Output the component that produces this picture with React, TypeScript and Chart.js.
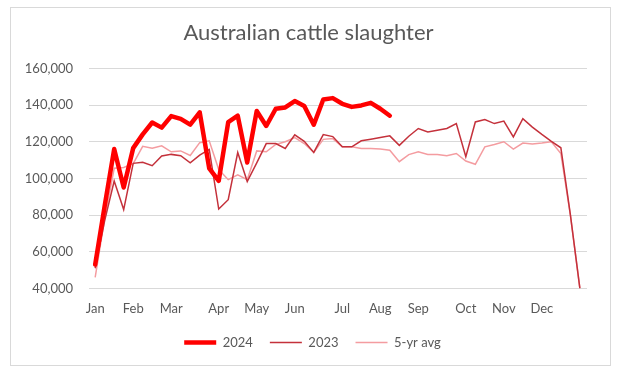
import React, { useEffect, useRef } from 'react';
import { Chart, registerables } from 'chart.js';

Chart.register(...registerables);

const monthLabels = ['Jan', 'Feb', 'Mar', 'Apr', 'May', 'Jun', 'Jul', 'Aug', 'Sep', 'Oct', 'Nov', 'Dec'];
const monthWeeks = [0, 4, 8, 13, 17, 21, 26, 30, 34, 39, 43, 47];

const series2024 = [
  53000, 85000, 116000, 95000, 116500, 124000, 130500, 127700, 134000, 132500,
  129300, 136000, 105500, 98700, 130700, 134200, 108700, 136800, 128600, 138000,
  138700, 142200, 139500, 129300, 143000, 143800, 140700, 139000, 139800, 141200,
  138000, 134200,
];

const series2023 = [
  51000, 77000, 98600, 83000, 108200, 108800, 106900, 112200, 113100, 112400,
  108500, 112700, 115800, 83300, 88400, 114100, 98300, 108500, 119000, 119000,
  116300, 123800, 120200, 114200, 123900, 122800, 117200, 117200, 120500, 121400,
  122300, 123200, 118000, 123000, 127200, 125300, 126300, 127200, 129900, 111800,
  130800, 132100, 129900, 131300, 122600, 132600, 128000, 124000, 120200, 116700,
  80200, 40000,
];

const series5yr = [
  46000, 78000, 105500, 106000, 108000, 117500, 116500, 117800, 114500, 115000,
  112500, 119500, 120500, 104800, 99300, 102000, 99300, 115000, 114500, 118500,
  120000, 122300, 119000, 114200, 121300, 121700, 117200, 117200, 116300, 116300,
  116000, 115400, 109100, 113000, 114500, 113100, 113100, 112400, 113600, 109500,
  107700, 117200, 118500, 120000, 116000, 119300, 118800, 119300, 120000, 113500,
  80000, 40000,
];

const seriesNames = ['2024', '2023', '5-yr avg'];
const yMin = 40000;
const yMax = 160000;
const yStep = 20000;

const FONT = 'Lato, "Open Sans", sans-serif';
const TEXT = '#595959';

const boxShift = {
  id: 'boxShift',
  afterLayout(chart: any) {
    const lg = chart.legend;
    if (lg) {
      lg.top -= 11;
      lg.bottom -= 11;
      lg.left += 14;
      lg.right += 14;
    }
    const tb = chart.titleBlock;
    if (tb) {
      tb.left += 10;
      tb.right += 10;
    }
  },
};

export default function App() {
  const canvasRef = useRef<HTMLCanvasElement | null>(null);

  useEffect(() => {
    const canvas = canvasRef.current;
    if (!canvas) return;
    const toPts = (arr: number[]) => arr.map((y, i) => ({ x: i, y }));
    const chart = new Chart(canvas, {
      type: 'line',
      data: {
        datasets: [
          {
            label: seriesNames[0],
            data: toPts(series2024),
            borderColor: '#FF0000',
            backgroundColor: '#FF0000',
            borderWidth: 4.5,
            pointRadius: 0,
            tension: 0,
            borderJoinStyle: 'round',
            borderCapStyle: 'round',
          },
          {
            label: seriesNames[1],
            data: toPts(series2023),
            borderColor: '#C4313B',
            backgroundColor: '#C4313B',
            borderWidth: 1.5,
            pointRadius: 0,
            tension: 0,
          },
          {
            label: seriesNames[2],
            data: toPts(series5yr),
            borderColor: '#F49CA0',
            backgroundColor: '#F49CA0',
            borderWidth: 1.5,
            pointRadius: 0,
            tension: 0,
          },
        ],
      },
      plugins: [boxShift],
      options: {
        responsive: false,
        animation: false,
        devicePixelRatio: 1,
        layout: { padding: { top: 10, left: 10, right: 36, bottom: 3 } },
        plugins: {
          tooltip: { enabled: false },
          title: {
            display: true,
            text: 'Australian cattle slaughter',
            color: TEXT,
            font: { family: FONT, size: 22, weight: 'normal' },
            padding: { top: 10, bottom: 22 },
          },
          legend: {
            position: 'bottom',
            labels: {
              usePointStyle: true,
              pointStyleWidth: 32,
              boxWidth: 32,
              boxHeight: 13,
              padding: 17,
              color: TEXT,
              font: { family: FONT, size: 13 },
              generateLabels: (c: any) =>
                c.data.datasets.map((ds: any, i: number) => ({
                  text: ds.label,
                  strokeStyle: ds.borderColor,
                  fillStyle: ds.borderColor,
                  lineWidth: ds.borderWidth,
                  pointStyle: 'line',
                  lineCap: 'butt',
                  hidden: false,
                  datasetIndex: i,
                  fontColor: TEXT,
                })),
            },
          },
        },
        scales: {
          x: {
            type: 'linear',
            min: -0.65,
            max: 51.75,
            grid: { display: false, drawTicks: false },
            border: { display: false },
            afterBuildTicks: (scale: any) => {
              scale.ticks = monthWeeks.map((v) => ({ value: v }));
            },
            ticks: {
              autoSkip: false,
              maxRotation: 0,
              padding: 13,
              color: TEXT,
              font: { family: FONT, size: 13 },
              callback: (v: any) => {
                const idx = monthWeeks.indexOf(Number(v));
                return idx >= 0 ? monthLabels[idx] : '';
              },
            },
          },
          y: {
            min: yMin,
            max: yMax,
            grid: { color: '#D9D9D9', drawTicks: false, lineWidth: 1 },
            border: { display: false },
            afterFit: (scale: any) => {
              scale.width = 79;
            },
            ticks: {
              stepSize: yStep,
              padding: 16,
              color: TEXT,
              font: { family: FONT, size: 13 },
              callback: (v: any) => Number(v).toLocaleString('en-US'),
            },
          },
        },
      },
    } as any);
    return () => chart.destroy();
  }, []);

  return (
    <div style={{ position: 'fixed', left: 0, top: 0, width: 623, height: 373, background: '#fff' }}>
      <div
        style={{
          position: 'absolute',
          left: 10,
          top: 7,
          width: 601,
          height: 359,
          border: '1px solid #D9D9D9',
          boxSizing: 'border-box',
        }}
      />
      <canvas ref={canvasRef} width={623} height={373} style={{ position: 'absolute', left: 0, top: 0 }} />
    </div>
  );
}
